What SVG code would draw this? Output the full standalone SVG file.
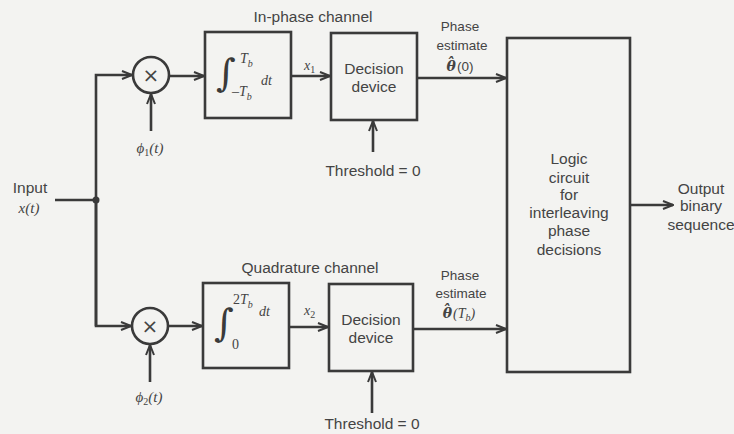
<svg xmlns="http://www.w3.org/2000/svg" width="734" height="434" viewBox="0 0 734 434">
<defs>
<marker id="arr" viewBox="0 0 12 10" refX="11" refY="5" markerWidth="12" markerHeight="10" markerUnits="userSpaceOnUse" orient="auto">
<path d="M1,1 L11,5 L1,9" fill="none" stroke="#3a3a3a" stroke-width="2"/>
</marker>
<style>
.ln{stroke:#3a3a3a;stroke-width:2.6;fill:none}
.bx{stroke:#3a3a3a;stroke-width:2.6;fill:none}
.t{font-family:"Liberation Sans",Arial,sans-serif;font-size:15.5px;fill:#444;text-anchor:middle}
.e{font-size:13.5px}
.m{font-family:"Liberation Serif","DejaVu Serif",serif;font-style:italic;fill:#444}
.u{font-style:normal}
.h{font-family:"DejaVu Serif",serif;font-style:italic;font-weight:bold;font-size:14px;fill:#444}
.i{font-family:"DejaVu Serif",serif;font-size:38px;fill:#3a3a3a}
.x{font-family:"DejaVu Sans",sans-serif;font-size:20px;fill:#444;text-anchor:middle}
</style>
</defs>
<rect width="734" height="434" fill="#f3f3f1"/>

<g id="connectors">
<line class="ln" x1="55" y1="200" x2="96" y2="200"/>
<polyline class="ln" points="96,326 96,75 132,75" marker-end="url(#arr)"/>
<polyline class="ln" points="96,200 96,326 131,326" marker-end="url(#arr)"/>
<circle cx="96" cy="200" r="3.5" fill="#3a3a3a"/>
<line class="ln" x1="169" y1="76" x2="204" y2="76" marker-end="url(#arr)"/>
<line class="ln" x1="151" y1="131" x2="151" y2="94" marker-end="url(#arr)"/>
<line class="ln" x1="291" y1="76" x2="330" y2="76" marker-end="url(#arr)"/>
<line class="ln" x1="373" y1="152" x2="373" y2="121" marker-end="url(#arr)"/>
<line class="ln" x1="417" y1="78" x2="506" y2="78" marker-end="url(#arr)"/>
<line class="ln" x1="168" y1="326" x2="202" y2="326" marker-end="url(#arr)"/>
<line class="ln" x1="150" y1="382" x2="150" y2="345" marker-end="url(#arr)"/>
<line class="ln" x1="289" y1="327" x2="328" y2="327" marker-end="url(#arr)"/>
<line class="ln" x1="372" y1="413" x2="372" y2="372" marker-end="url(#arr)"/>
<line class="ln" x1="413" y1="329" x2="506" y2="329" marker-end="url(#arr)"/>
<line class="ln" x1="630" y1="205" x2="673" y2="205" marker-end="url(#arr)"/>
</g>

<g id="input">
<text class="t" x="30" y="193">Input</text>
<text class="m" x="29" y="213" font-size="15" text-anchor="middle">x(t)</text>
</g>

<g id="mult1">
<circle class="bx" cx="151" cy="75" r="18"/>
<text class="x" x="151" y="82">×</text>
<text class="m" x="150" y="153" font-size="15" text-anchor="middle">ϕ<tspan class="u" font-size="10" dy="3">1</tspan><tspan dy="-3">(t)</tspan></text>
</g>

<g id="mult2">
<circle class="bx" cx="150" cy="326" r="18"/>
<text class="x" x="150" y="333">×</text>
<text class="m" x="149" y="402" font-size="15" text-anchor="middle">ϕ<tspan class="u" font-size="10" dy="3">2</tspan><tspan dy="-3">(t)</tspan></text>
</g>

<g id="integrator1">
<text class="t" x="313" y="22">In-phase channel</text>
<rect class="bx" x="205" y="32" width="86" height="86"/>
<text class="i" x="216" y="86">∫<tspan class="m" font-size="14" x="240" y="63">T</tspan><tspan class="m" font-size="10" dy="4">b</tspan><tspan class="m" font-size="14" x="232" y="96">–T</tspan><tspan class="m" font-size="10" dy="4">b</tspan><tspan class="m" font-size="14" x="261" y="85">dt</tspan></text>
</g>

<g id="integrator2">
<text class="t" x="310" y="273">Quadrature channel</text>
<rect class="bx" x="203" y="283" width="86" height="85"/>
<text class="i" x="214" y="336">∫<tspan class="m u" font-size="14" x="233" y="304">2</tspan><tspan class="m" font-size="14">T</tspan><tspan class="m" font-size="10" dy="4">b</tspan><tspan class="m" font-size="14" x="259" y="316">dt</tspan><tspan class="m u" font-size="14" x="232" y="349">0</tspan></text>
</g>

<g id="decision1">
<text class="m" x="304" y="70" font-size="14">x<tspan class="u" font-size="10" dy="3">1</tspan></text>
<rect class="bx" x="331" y="33" width="86" height="87"/>
<text class="t" x="374" y="74">Decision</text>
<text class="t" x="374" y="92">device</text>
<text class="t" x="373" y="176">Threshold = 0</text>
</g>

<g id="decision2">
<text class="m" x="304" y="315" font-size="14">x<tspan class="u" font-size="10" dy="3">2</tspan></text>
<rect class="bx" x="329" y="284" width="84" height="87"/>
<text class="t" x="371" y="325">Decision</text>
<text class="t" x="371" y="343">device</text>
<text class="t" x="372" y="429">Threshold = 0</text>
</g>

<g id="estimate1">
<text class="t e" x="460" y="31">Phase</text>
<text class="t e" x="462" y="50">estimate</text>
<text class="t e" x="460" y="71"><tspan class="h">θ</tspan><tspan class="h" dx="-9" dy="-3">ˆ</tspan><tspan dx="3" dy="3">(0)</tspan></text>
</g>

<g id="estimate2">
<text class="t e" x="460" y="280">Phase</text>
<text class="t e" x="461" y="298">estimate</text>
<text class="t e" x="459" y="318"><tspan class="h">θ</tspan><tspan class="h" dx="-9" dy="-3">ˆ</tspan><tspan class="m" font-size="14" dx="3" dy="3">(T</tspan><tspan class="m" font-size="10" dy="3">b</tspan><tspan class="m" font-size="14" dy="-3">)</tspan></text>
</g>

<g id="logic">
<rect class="bx" x="507" y="38" width="123" height="334"/>
<text class="t" x="569" y="164">Logic</text>
<text class="t" x="569" y="183">circuit</text>
<text class="t" x="569" y="200">for</text>
<text class="t" x="569" y="218">interleaving</text>
<text class="t" x="569" y="236">phase</text>
<text class="t" x="569" y="255">decisions</text>
</g>

<g id="output">
<text class="t" x="701" y="194" font-size="15">Output</text>
<text class="t" x="701" y="211" font-size="15">binary</text>
<text class="t" x="701" y="230" font-size="15">sequence</text>
</g>
</svg>
